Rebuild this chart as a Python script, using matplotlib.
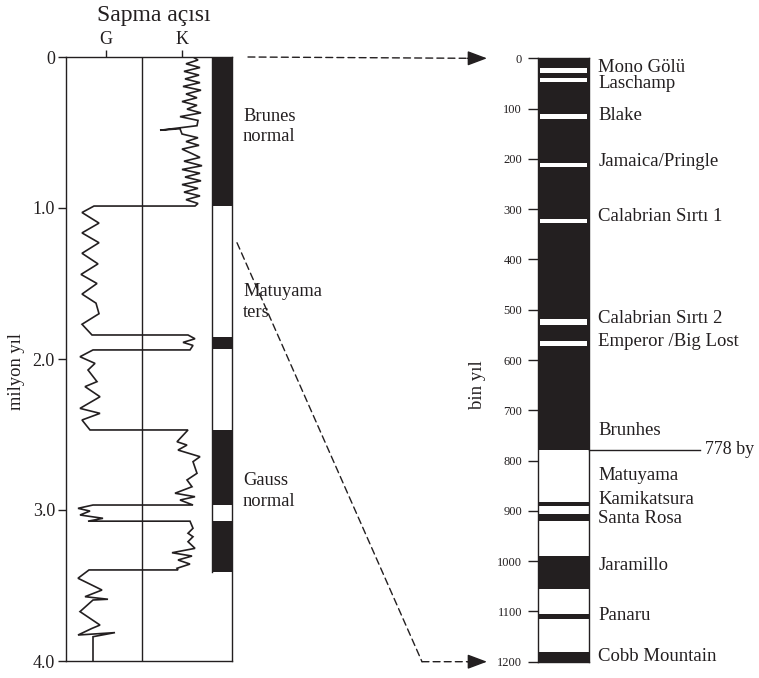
import matplotlib
matplotlib.use("Agg")
import matplotlib.pyplot as plt
from matplotlib.patches import ConnectionPatch, ArrowStyle

plt.rcParams['font.family'] = ['Liberation Serif', 'DejaVu Serif']

# ---------------- data ----------------
# Left panel: declination trace (x = offset from central line, G < 0 < K), age in Myr
decl_age = [0.000, 0.020, 0.045, 0.070, 0.095, 0.120, 0.145, 0.170, 0.195, 0.220,
            0.245, 0.270, 0.295, 0.320, 0.345, 0.370, 0.395, 0.420, 0.455, 0.485,
            0.475, 0.510, 0.535, 0.560, 0.585, 0.610, 0.640, 0.665, 0.690, 0.720,
            0.745, 0.770, 0.795, 0.820, 0.845, 0.870, 0.895, 0.920, 0.945, 0.970,
            0.987, 0.987, 1.030, 1.100, 1.165, 1.230, 1.300, 1.370, 1.440, 1.500,
            1.570, 1.630, 1.700, 1.770, 1.841, 1.841, 1.866, 1.890, 1.910, 1.940,
            1.940, 1.985, 2.029, 2.073, 2.150, 2.183, 2.250, 2.327, 2.360, 2.404,
            2.470, 2.470, 2.548, 2.570, 2.603, 2.647, 2.680, 2.757, 2.801, 2.846,
            2.889, 2.912, 2.934, 2.967, 2.967, 2.989, 3.007, 3.033, 3.055, 3.074,
            3.074, 3.121, 3.154, 3.177, 3.210, 3.254, 3.283, 3.305, 3.331, 3.358,
            3.386, 3.397, 3.397, 3.452, 3.530, 3.574, 3.591, 3.596, 3.673, 3.762,
            3.784, 3.828, 3.812, 3.839, 4.000]
decl_x = [51, 56, 44, 58, 42, 57, 43, 58, 41, 59,
          44, 55, 40, 55, 45, 59, 38, 56, 55, 18,
          38, 40, 56, 44, 57, 40, 50, 58, 42, 60,
          40, 58, 43, 59, 40, 56, 42, 58, 44, 56,
          53, -48, -60, -43, -60, -43, -60, -44, -61, -45,
          -60, -46, -43, -60, -50, 46, 53, 41, 51, 48,
          -49, -62, -47, -54, -45, -57, -42, -62, -42, -60,
          -52, 46, 35, 45, 36, 58, 51, 55, 45, 50,
          33, 53, 38, 51, -49, -64, -52, -62, -39, -54,
          48, 51, 46, 51, 46, 53, 30, 50, 36, 48,
          35, 36, -53, -64, -40, -57, -34, -49, -62, -42,
          -50, -64, -27, -49, -49]

# Left panel polarity column (normal = black), Myr
left_normal_start = [0.000, 1.852, 2.470, 3.073]
left_normal_end = [0.987, 1.936, 2.967, 3.408]
left_column_bottom = 3.408
left_labels = ["Brunes\nnormal", "Matuyama\nters", "Gauss\nnormal"]
left_label_age = [0.46, 1.62, 2.875]

left_yticks = [0, 1.0, 2.0, 3.0, 4.0]
left_yticklabels = ["0", "1.0", "2.0", "3.0", "4.0"]
top_ticks = [-36, 40]
top_ticklabels = ["G", "K"]

# Right panel (ky)
brunhes_end = 778
rev_start = [20, 40, 111, 208, 319, 519, 563]     # white events within Brunhes
rev_end = [30, 47, 120, 217, 328, 530, 573]
norm_start = [883, 906, 989, 1105, 1181]          # black events within Matuyama
norm_end = [890, 920, 1056, 1115, 1200]
right_labels = ["Mono Gölü", "Laschamp", "Blake", "Jamaica/Pringle", "Calabrian Sırtı 1",
                "Calabrian Sırtı 2", "Emperor /Big Lost", "Brunhes", "Matuyama",
                "Kamikatsura", "Santa Rosa", "Jaramillo", "Panaru", "Cobb Mountain"]
right_label_ky = [19, 50, 114, 206, 315, 517, 563, 740, 829, 878, 915, 1008, 1109, 1190]
right_yticks = list(range(0, 1201, 100))

BLACK = "#231f20"
W, H = 759, 678

fig = plt.figure(figsize=(W / 100, H / 100), dpi=100)

# ---------------- left panel ----------------
L0, L1, T0, B0 = 66, 232, 57, 661
ax = fig.add_axes([L0 / W, 1 - B0 / H, (L1 - L0) / W, (B0 - T0) / H])
ax.set_xlim(-76, 90)
ax.set_ylim(4.0, 0)
for s in ax.spines.values():
    s.set_linewidth(1.0)
    s.set_color(BLACK)

ax.axvline(0, color=BLACK, lw=1.0)
ax.plot(decl_x, decl_age, color=BLACK, lw=1.2, solid_joinstyle='miter')

for a0, a1 in zip(left_normal_start, left_normal_end):
    ax.fill_betweenx([a0, a1], 70, 90, color=BLACK, lw=0)
ax.plot([70, 70], [0, left_column_bottom], color=BLACK, lw=1.0)

for lab, age in zip(left_labels, left_label_age):
    ax.text(101, age, lab, fontsize=13.3, va='center', ha='left',
            linespacing=1.3, clip_on=False, color=BLACK)

ax.set_yticks(left_yticks)
ax.set_yticklabels(left_yticklabels, fontsize=13)
ax.tick_params(axis='y', direction='out', length=6, width=1.0, pad=2, colors=BLACK)
ax.xaxis.tick_top()
ax.set_xticks(top_ticks)
ax.set_xticklabels(top_ticklabels, fontsize=13)
ax.tick_params(axis='x', direction='out', length=5, width=1.0, pad=1.5, colors=BLACK)
ax.set_ylabel("milyon yıl", fontsize=13.3, color=BLACK)
ax.yaxis.set_label_coords((25 - L0) / (L1 - L0), (B0 - 372) / (B0 - T0))
ax.text((154 - L0) / (L1 - L0), (B0 - 16) / (B0 - T0), "Sapma açısı",
        transform=ax.transAxes, fontsize=17, ha='center', va='center', color=BLACK)

# ---------------- right panel ----------------
R0, R1, RT, RB = 538, 589, 58.3, 661.7
ax2 = fig.add_axes([R0 / W, 1 - RB / H, (R1 - R0) / W, (RB - RT) / H])
ax2.set_xlim(0, 1)
ax2.set_ylim(1200, 0)
ax2.fill_between([0, 1], 0, brunhes_end, color=BLACK, lw=0)
for a0, a1 in zip(rev_start, rev_end):
    ax2.fill_between([0.04, 0.96], a0, a1, color='white', lw=0)
for a0, a1 in zip(norm_start, norm_end):
    ax2.fill_between([0, 1], a0, a1, color=BLACK, lw=0)
for s in ax2.spines.values():
    s.set_linewidth(1.0)
    s.set_color(BLACK)
ax2.set_xticks([])
ax2.set_yticks(right_yticks)
ax2.set_yticklabels([str(v) for v in right_yticks], fontsize=9)
ax2.tick_params(axis='y', direction='out', length=7, width=1.0, pad=4.5, colors=BLACK)
ax2.set_ylabel("bin yıl", fontsize=13.5, color=BLACK)
ax2.yaxis.set_label_coords((486 - R0) / (R1 - R0), (RB - 385) / (RB - RT))

for lab, ky in zip(right_labels, right_label_ky):
    ax2.text(1.18, ky, lab, fontsize=13.5, va='center', ha='left', clip_on=False,
             color=BLACK)

x778 = (700 - R0) / (R1 - R0)
ax2.plot([1, x778], [brunhes_end, brunhes_end], color=BLACK, lw=1.0, clip_on=False)
ax2.text(x778 + 0.1, brunhes_end, f"{brunhes_end} by", fontsize=13, va='center',
         ha='left', clip_on=False, color=BLACK)

# ---------------- connectors ----------------
dash = (0, (5, 3))
tip_x = (487 - R0) / (R1 - R0)
bend_x = (422 - R0) / (R1 - R0)
head_base = (470 - R0) / (R1 - R0)

c1 = ConnectionPatch(xyA=(106, 0), coordsA=ax.transData,
                     xyB=(head_base, 0), coordsB=ax2.transData,
                     color=BLACK, lw=1.0, linestyle=dash)
fig.add_artist(c1)
c2 = ConnectionPatch(xyA=(95, 1.23), coordsA=ax.transData,
                     xyB=(bend_x, 1200), coordsB=ax2.transData,
                     color=BLACK, lw=1.0, linestyle=dash)
fig.add_artist(c2)
c3 = ConnectionPatch(xyA=(bend_x, 1200), coordsA=ax2.transData,
                     xyB=(head_base, 1200), coordsB=ax2.transData,
                     color=BLACK, lw=1.0, linestyle=dash)
fig.add_artist(c3)
for yv in (0, 1200):
    h = ConnectionPatch(xyA=(head_base - 0.05, yv), coordsA=ax2.transData,
                        xyB=(tip_x, yv), coordsB=ax2.transData,
                        arrowstyle=ArrowStyle('-|>', head_length=1.2, head_width=0.45),
                        mutation_scale=10, color=BLACK, lw=1.0, shrinkA=0, shrinkB=0)
    fig.add_artist(h)

fig.savefig("out.png", dpi=100, facecolor='white')
